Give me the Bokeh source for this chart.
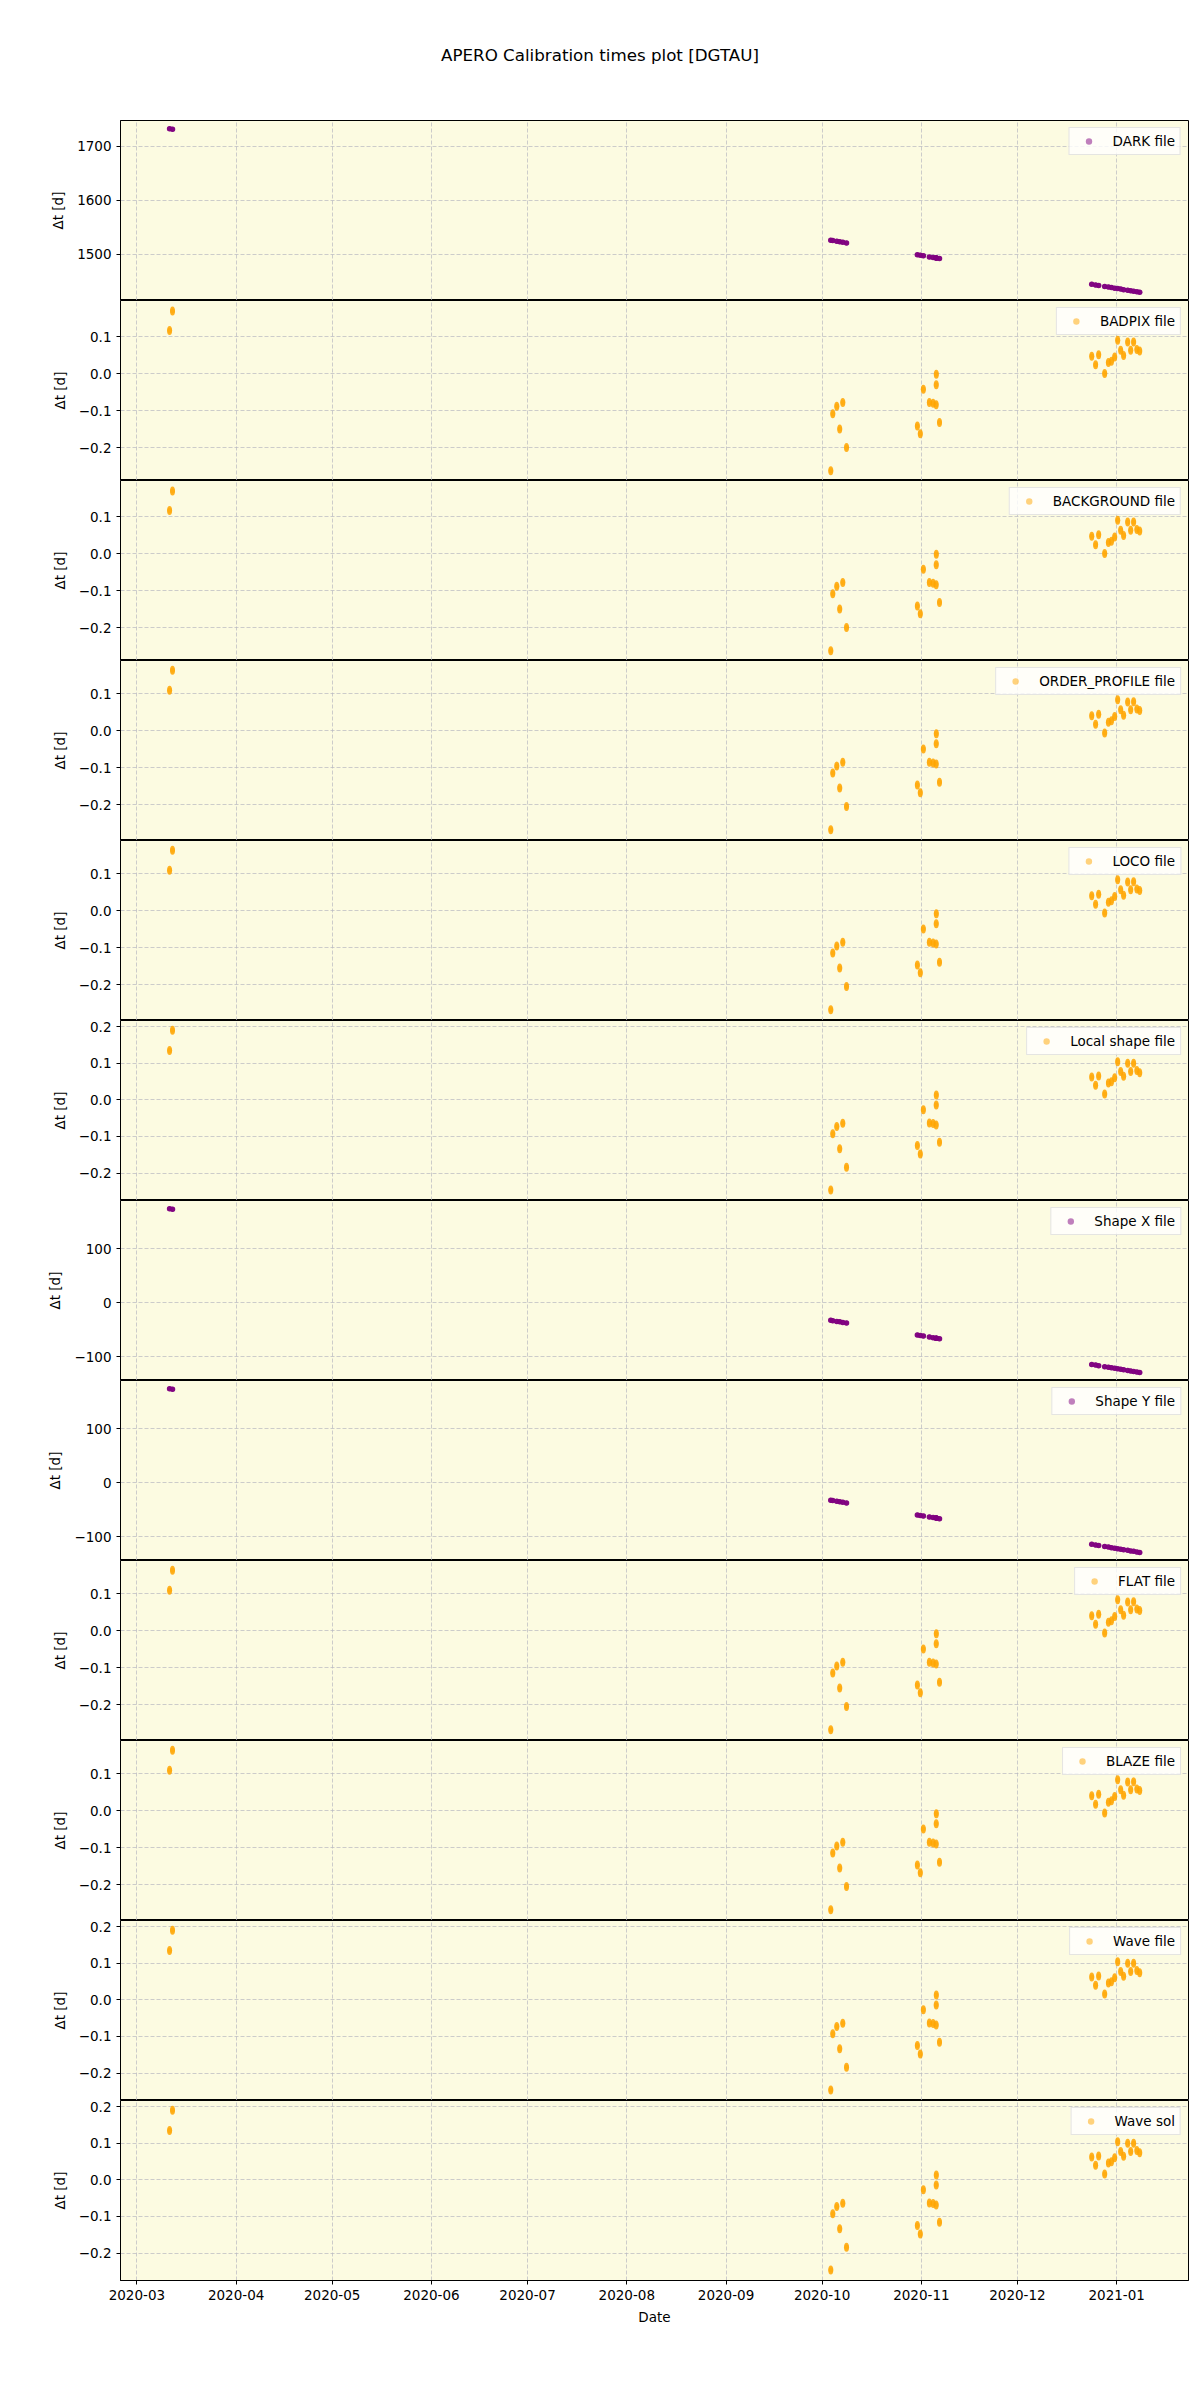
import pandas as pd
from datetime import datetime
from bokeh.plotting import figure
from bokeh.layouts import column
from bokeh.models import (Range1d, FixedTicker, MonthsTicker, DatetimeTickFormatter,
                          CustomJSTickFormatter, Legend, LegendItem, ColumnDataSource, Div)
from bokeh.embed import file_html
from bokeh.resources import INLINE

FONT = "DejaVu Sans"

# ---------------- data ----------------
obs_time = [
    "2020-03-11 05:00", "2020-03-12 03:00",
    "2020-10-03 17:00", "2020-10-04 08:00", "2020-10-05 14:00", "2020-10-06 12:00",
    "2020-10-07 11:00", "2020-10-08 15:00",
    "2020-10-30 18:00", "2020-10-31 16:00", "2020-11-01 15:00", "2020-11-03 12:00",
    "2020-11-04 16:00", "2020-11-05 15:00", "2020-11-05 16:00", "2020-11-05 15:30",
    "2020-11-06 16:00",
    "2020-12-24 05:00", "2020-12-25 10:00", "2020-12-26 09:00", "2020-12-28 06:00",
    "2020-12-29 10:00", "2020-12-30 09:00", "2020-12-31 09:00",
    "2021-01-01 07:30", "2021-01-02 06:00", "2021-01-03 04:00", "2021-01-04 10:30",
    "2021-01-05 09:00", "2021-01-06 07:00", "2021-01-07 07:30", "2021-01-08 04:30",
]

dark_dt = [1732.5, 1731.6,
           1526.0, 1525.4, 1524.1, 1523.2, 1522.2, 1521.1,
           1499.0, 1498.0, 1497.1, 1495.2, 1494.0, 1493.1, 1493.0, 1493.1, 1492.0,
           1444.5, 1443.3, 1442.3, 1440.5, 1439.3, 1438.3, 1437.3,
           1436.4, 1435.5, 1434.5, 1433.3, 1432.3, 1431.4, 1430.4, 1429.5]

badpix_dt = [0.116, 0.169,
             -0.262, -0.108, -0.088, -0.149, -0.078, -0.199,
             -0.141, -0.162, -0.042, -0.078, -0.080, -0.084, -0.002, -0.030, -0.132,
             0.047, 0.024, 0.051, 0.000, 0.030, 0.033, 0.045,
             0.090, 0.063, 0.049, 0.085, 0.063, 0.085, 0.065, 0.061]
background_dt = list(badpix_dt)

order_profile_dt = [0.110, 0.164,
                    -0.268, -0.114, -0.095, -0.155, -0.085, -0.205,
                    -0.147, -0.168, -0.049, -0.085, -0.087, -0.090, -0.008, -0.035, -0.139,
                    0.041, 0.018, 0.045, -0.006, 0.023, 0.027, 0.039,
                    0.084, 0.057, 0.042, 0.078, 0.057, 0.079, 0.059, 0.055]
loco_dt = list(order_profile_dt)
flat_dt = list(order_profile_dt)
blaze_dt = list(order_profile_dt)

local_shape_dt = [0.135, 0.190,
                  -0.246, -0.093, -0.073, -0.134, -0.064, -0.184,
                  -0.125, -0.148, -0.027, -0.063, -0.065, -0.069, 0.013, -0.014, -0.116,
                  0.062, 0.040, 0.065, 0.016, 0.046, 0.049, 0.060,
                  0.104, 0.077, 0.064, 0.100, 0.077, 0.100, 0.080, 0.074]
wave_dt = list(local_shape_dt)
wave_sol_dt = list(local_shape_dt)

shape_x_dt = [173.8, 172.9,
              -32.7, -33.3, -34.6, -35.5, -36.5, -37.6,
              -59.8, -60.7, -61.6, -63.5, -64.7, -65.6, -65.7, -65.6, -66.7,
              -114.2, -115.4, -116.4, -118.3, -119.4, -120.4, -121.4,
              -122.3, -123.3, -124.2, -125.4, -126.4, -127.3, -128.3, -129.2]
shape_y_dt = [174.1, 173.2,
              -32.4, -33.0, -34.3, -35.2, -36.2, -37.3,
              -59.5, -60.4, -61.3, -63.2, -64.4, -65.3, -65.4, -65.3, -66.4,
              -113.9, -115.1, -116.1, -118.0, -119.1, -120.1, -121.1,
              -122.0, -123.0, -123.9, -125.1, -126.1, -127.0, -128.0, -128.9]

labels = ["DARK file", "BADPIX file", "BACKGROUND file", "ORDER_PROFILE file", "LOCO file",
          "Local shape file", "Shape X file", "Shape Y file", "FLAT file", "BLAZE file",
          "Wave file", "Wave sol"]
series = [dark_dt, badpix_dt, background_dt, order_profile_dt, loco_dt, local_shape_dt,
          shape_x_dt, shape_y_dt, flat_dt, blaze_dt, wave_dt, wave_sol_dt]
kinds = ["long", "short", "short", "short", "short", "short",
         "long", "long", "short", "short", "short", "short"]
y_ranges = [(1414.4, 1747.8), (-0.288, 0.197), (-0.288, 0.197), (-0.297, 0.1905),
            (-0.297, 0.1905), (-0.275, 0.2166), (-143.9, 188.9), (-143.9, 189.4),
            (-0.297, 0.1905), (-0.297, 0.1905), (-0.275, 0.2166), (-0.275, 0.2166)]
y_ticks = [[1500, 1600, 1700], [-0.2, -0.1, 0.0, 0.1], [-0.2, -0.1, 0.0, 0.1],
           [-0.2, -0.1, 0.0, 0.1], [-0.2, -0.1, 0.0, 0.1], [-0.2, -0.1, 0.0, 0.1, 0.2],
           [-100, 0, 100], [-100, 0, 100], [-0.2, -0.1, 0.0, 0.1], [-0.2, -0.1, 0.0, 0.1],
           [-0.2, -0.1, 0.0, 0.1, 0.2], [-0.2, -0.1, 0.0, 0.1, 0.2]]
y_digits = [0, 1, 1, 1, 1, 1, 0, 0, 1, 1, 1, 1]

# ---------------- layout ----------------
times = pd.to_datetime(obs_time)
x_range = Range1d(start=datetime(2020, 2, 24, 21, 7), end=datetime(2021, 1, 23, 10, 19))
month_ticker = MonthsTicker(months=list(range(12)))
fmt = "%Y-%m"
date_fmt = DatetimeTickFormatter(months=fmt, days=fmt, years=fmt, hours=fmt,
                                 hourmin=fmt, minutes=fmt, seconds=fmt, milliseconds=fmt)

PURPLE = "#800080"
ORANGE = "#FFA500"
BG = "#FCFBE1"

title_div = Div(
    text=('<div style="width:1184px;margin-left:8px;text-align:center;margin-top:45px;'
          'font-family:\'DejaVu Sans\';font-size:16.7px;color:#000;line-height:20px">'
          'APERO Calibration times plot [DGTAU]</div>'),
    width=1192, height=120, margin=0)

figs = [title_div]
n = len(labels)
for i in range(n):
    last = (i == n - 1)
    p = figure(x_axis_type="datetime", x_range=x_range,
               y_range=Range1d(*y_ranges[i]),
               frame_width=1068, frame_height=180,
               min_border_left=120, min_border_right=4,
               min_border_top=0, min_border_bottom=(52 if last else 0),
               output_backend="svg", toolbar_location=None,
               background_fill_color=BG, border_fill_color="white")
    p.outline_line_color = "black"
    p.outline_line_width = 1

    src = ColumnDataSource(dict(t=times, v=series[i]))
    color = PURPLE if kinds[i] == "long" else ORANGE
    if kinds[i] == "long":
        p.scatter("t", "v", source=src, marker="circle", size=5.5,
                  fill_color=color, fill_alpha=0.95, line_color=None)
    else:
        p.ellipse("t", "v", source=src, width=5, height=9,
                  width_units="screen", height_units="screen",
                  fill_color=color, fill_alpha=0.85, line_color=None)
    r_leg = p.scatter("t", "v", source=src, marker="circle", size=5,
                      fill_color=color, fill_alpha=0.5, line_color=None)

    legend = Legend(items=[LegendItem(label=labels[i], renderers=[r_leg])],
                    location="top_right", margin=7, padding=5, spacing=0,
                    glyph_width=28, glyph_height=16, label_height=16,
                    label_standoff=10,
                    label_text_font=FONT, label_text_font_size="13.5px",
                    label_text_color="black",
                    background_fill_color="white", background_fill_alpha=0.8,
                    border_line_color="#cccccc", border_line_width=1)
    p.add_layout(legend)

    # y axis
    ya = p.yaxis[0]
    ya.ticker = FixedTicker(ticks=y_ticks[i])
    ya.formatter = CustomJSTickFormatter(args=dict(d=y_digits[i]), code="""
        const v = Math.abs(tick) < 1e-9 ? 0 : tick;
        return v.toFixed(d).replace('-', '\\u2212');
    """)
    ya.axis_label = "\u0394t [d]"
    ya.axis_label_text_font = FONT
    ya.axis_label_text_font_size = "13.5px"
    ya.axis_label_text_font_style = "normal"
    ya.axis_label_text_color = "black"
    ya.axis_label_standoff = 8
    ya.major_label_text_font = FONT
    ya.major_label_text_font_size = "13.5px"
    ya.major_label_text_color = "black"
    ya.axis_line_color = "black"
    ya.major_tick_line_color = "black"
    ya.major_tick_in = 0
    ya.major_tick_out = 4
    ya.major_label_standoff = 5
    ya.minor_tick_line_color = None
    p.ygrid.ticker = ya.ticker

    # x axis / grid
    xa = p.xaxis[0]
    xa.ticker = month_ticker
    xa.formatter = date_fmt
    p.xgrid.ticker = month_ticker
    for g in (p.xgrid[0], p.ygrid[0]):
        g.grid_line_color = "#b8b8c0"
        g.grid_line_alpha = 0.7
        g.grid_line_dash = "4 2"
        g.grid_line_width = 1
    if last:
        xa.axis_label = "Date"
        xa.axis_label_text_font = FONT
        xa.axis_label_text_font_size = "13.5px"
        xa.axis_label_text_font_style = "normal"
        xa.axis_label_text_color = "black"
        xa.axis_label_standoff = 6
        xa.major_label_text_font = FONT
        xa.major_label_text_font_size = "13.5px"
        xa.major_label_text_color = "black"
        xa.axis_line_color = "black"
        xa.major_tick_line_color = "black"
        xa.major_tick_in = 0
        xa.major_tick_out = 4
        xa.major_label_standoff = 5
        xa.minor_tick_line_color = None
    else:
        xa.visible = False
    figs.append(p)

layout = column(*figs, spacing=0)
open("out.html", "w", encoding="utf-8").write(file_html(layout, INLINE, title="APERO Calibration times plot [DGTAU]"))
